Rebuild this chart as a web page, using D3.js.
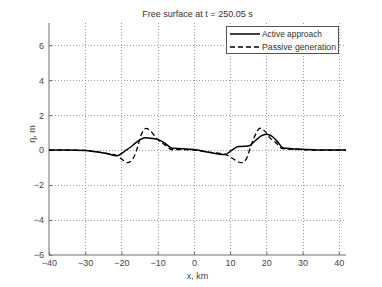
<!DOCTYPE html>
<html>
<head>
<meta charset="utf-8">
<script src="https://cdn.jsdelivr.net/npm/d3@7"></script>
<style>
  body { margin: 0; background: #fff; }
  svg text { font-family: "Liberation Sans", Arial, sans-serif; }
</style>
</head>
<body>
<div id="chart"></div>
<script>
// Chart data
const xTicks = [-40, -30, -20, -10, 0, 10, 20, 30, 40];
const yTicks = [-6, -4, -2, 0, 2, 4, 6];

const activeX = [-40, -35, -30, -27, -24, -21.3, -19, -17, -15.5, -13.5, -11.5, -9.8, -8, -6, -3, 0, 4, 8.6, 10.5, 12.3, 14, 15.3, 17, 18.5, 20, 21.5, 23, 24.7, 27, 30, 34, 38, 42];
const activeY = [0, 0, -0.02, -0.1, -0.2, -0.32, -0.05, 0.25, 0.5, 0.7, 0.67, 0.6, 0.4, 0.1, 0.08, 0.03, -0.12, -0.25, 0, 0.2, 0.22, 0.25, 0.55, 0.8, 0.9, 0.8, 0.5, 0.12, 0.08, 0.05, 0, 0, 0];

const passiveX = [-40, -35, -30, -27, -24, -21.3, -20, -18.4, -17, -15.8, -14.5, -13.2, -12, -10, -8, -6, -3, 0, 4, 8.6, 10.5, 12, 13.2, 14.5, 15.5, 16.8, 18.3, 19.5, 21, 22.5, 24.5, 27, 30, 34, 38, 42];
const passiveY = [0, 0, -0.02, -0.1, -0.2, -0.32, -0.5, -0.72, -0.55, 0, 0.9, 1.24, 1.1, 0.6, 0.3, 0.02, 0.03, 0, -0.12, -0.25, -0.45, -0.65, -0.72, -0.5, 0.1, 0.8, 1.25, 1.1, 0.7, 0.45, 0.08, 0.05, 0.02, 0, 0, 0];

const seriesNames = ["Active approach", "Passive generation"];

// Dimensions
const width = 382;
const height = 287;
const margin = { top: 23, right: 36, bottom: 32, left: 49 };

const svg = d3.select("#chart")
    .append("svg")
    .attr("width", width)
    .attr("height", height);

// Scales
const xScale = d3.scaleLinear()
    .domain([-40, 42])
    .range([margin.left, width - margin.right]);

const yScale = d3.scaleLinear()
    .domain([-6, 7.27])
    .range([height - margin.bottom, margin.top]);

// Grid
const grid = svg.append("g")
    .attr("stroke", "#9a9a9a")
    .attr("stroke-width", 1)
    .attr("stroke-dasharray", "1,2");

grid.selectAll(".vg")
    .data(xTicks.filter((d) => d > -40))
    .enter()
    .append("line")
    .attr("x1", (d) => Math.round(xScale(d)) + 0.5)
    .attr("x2", (d) => Math.round(xScale(d)) + 0.5)
    .attr("y1", yScale.range()[0])
    .attr("y2", yScale.range()[1]);

grid.selectAll(".hg")
    .data(yTicks.filter((d) => d > -6))
    .enter()
    .append("line")
    .attr("x1", xScale.range()[0])
    .attr("x2", xScale.range()[1])
    .attr("y1", (d) => Math.round(yScale(d)) + 0.5)
    .attr("y2", (d) => Math.round(yScale(d)) + 0.5);

// Axes
const xAxis = d3.axisBottom(xScale)
    .tickValues(xTicks)
    .tickSize(-3)
    .tickPadding(5);

const yAxis = d3.axisLeft(yScale)
    .tickValues(yTicks)
    .tickSize(-3)
    .tickPadding(5);

const gx = svg.append("g")
    .attr("transform", `translate(0, ${height - margin.bottom})`)
    .call(xAxis);

const gy = svg.append("g")
    .attr("transform", `translate(${margin.left}, 0)`)
    .call(yAxis);

[gx, gy].forEach((g) => {
    g.select(".domain").attr("stroke", "#6e6e6e");
    g.selectAll(".tick line").attr("stroke", "#6e6e6e");
    g.selectAll(".tick text")
        .attr("fill", "#444")
        .style("font-size", "9px");
});
gy.select(".domain").attr("d", `M0,${yScale.range()[0]}V${yScale.range()[1]}`);
gx.select(".domain").attr("d", `M${xScale.range()[0]},0H${xScale.range()[1]}`);

// Lines
const line = d3.line()
    .x((d) => xScale(d[0]))
    .y((d) => yScale(d[1]))
    .curve(d3.curveMonotoneX);

const activeData = activeX.map((x, i) => [x, activeY[i]]);
const passiveData = passiveX.map((x, i) => [x, passiveY[i]]);

svg.append("path")
    .datum(activeData)
    .attr("d", line)
    .attr("fill", "none")
    .attr("stroke", "#000")
    .attr("stroke-width", 1.5);

svg.append("path")
    .datum(passiveData)
    .attr("d", line)
    .attr("fill", "none")
    .attr("stroke", "#000")
    .attr("stroke-width", 1.3)
    .attr("stroke-dasharray", "5,3");

// Title and labels
svg.append("text")
    .attr("x", (xScale.range()[0] + xScale.range()[1]) / 2)
    .attr("y", 17)
    .attr("text-anchor", "middle")
    .attr("fill", "#333")
    .style("font-size", "9px")
    .text("Free surface at t = 250.05 s");

svg.append("text")
    .attr("x", (xScale.range()[0] + xScale.range()[1]) / 2)
    .attr("y", 279)
    .attr("text-anchor", "middle")
    .attr("fill", "#444")
    .style("font-size", "9px")
    .text("x, km");

svg.append("text")
    .attr("transform", "rotate(-90)")
    .attr("x", -134)
    .attr("y", 35)
    .attr("text-anchor", "middle")
    .attr("fill", "#444")
    .style("font-size", "9px")
    .text("η, m");

// Legend
const legend = svg.append("g").attr("transform", "translate(226, 26)");
legend.append("rect")
    .attr("x", 0.5)
    .attr("y", 0.5)
    .attr("width", 112)
    .attr("height", 27)
    .attr("fill", "#fff")
    .attr("stroke", "#555");

seriesNames.forEach((name, i) => {
    const y = 8 + i * 13;
    legend.append("line")
        .attr("x1", 4)
        .attr("x2", 34)
        .attr("y1", y)
        .attr("y2", y)
        .attr("stroke", "#000")
        .attr("stroke-width", i === 0 ? 1.5 : 1.3)
        .attr("stroke-dasharray", i === 0 ? null : "5,3");
    legend.append("text")
        .attr("x", 36)
        .attr("y", y + 3)
        .attr("fill", "#333")
        .style("font-size", "8.5px")
        .attr("textLength", i === 0 ? 60 : 74)
        .attr("lengthAdjust", "spacingAndGlyphs")
        .text(name);
});
</script>
</body>
</html>
